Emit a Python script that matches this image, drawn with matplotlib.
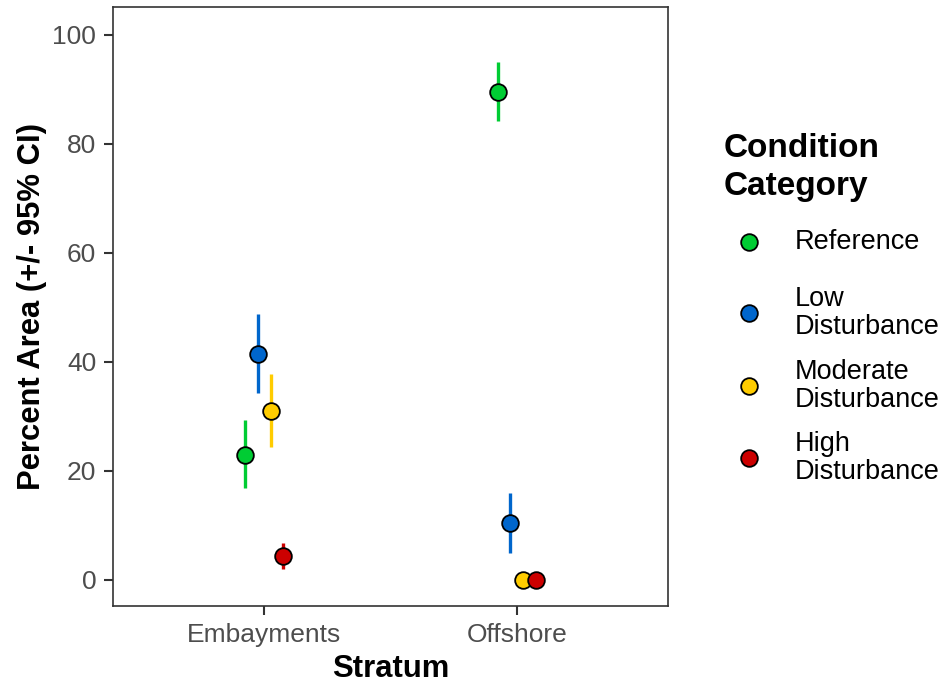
import numpy as np
import matplotlib.pyplot as plt
from matplotlib.lines import Line2D

plt.rcParams['font.family'] = ['Liberation Sans', 'DejaVu Sans']

# Dados
strata = ['Embayments', 'Offshore']
categories = ['Reference', 'Low\nDisturbance', 'Moderate\nDisturbance', 'High\nDisturbance']
colors = ['#00CC33', '#0066CC', '#FFCC00', '#CC0000']

# percent area por categoria (linhas) e estrato (colunas)
pct = [[22.9, 89.5],
       [41.5, 10.5],
       [31.0, 0.0],
       [4.4, 0.0]]
ci_low = [[16.8, 84.2],
          [34.3, 5.0],
          [24.4, 0.0],
          [2.0, 0.0]]
ci_high = [[29.4, 95.0],
           [48.8, 16.0],
           [37.8, 0.0],
           [6.8, 0.0]]

W, H = 941, 683
fig = plt.figure(figsize=(W / 100, H / 100), dpi=100)
# painel em pixels: x 113-668, y 7-606
ax = fig.add_axes([113 / W, 1 - 606 / H, 555 / W, 599 / H])

x = np.arange(1, len(strata) + 1)
dodge = 0.05
for i, cat in enumerate(categories):
    xi = x + (i - 1.5) * dodge
    ax.vlines(xi, ci_low[i], ci_high[i], color=colors[i], lw=2.4, zorder=2)
    ax.plot(xi, pct[i], 'o', ms=12, mfc=colors[i], mec='black', mew=1.3, zorder=3)

ax.set_xlim(0.4, 2.6)
ax.set_ylim(-4.8, 105.1)
ax.set_xticks(x)
ax.set_xticklabels(strata)
ax.set_yticks([0, 20, 40, 60, 80, 100])
ax.tick_params(colors='#333333', labelcolor='#4D4D4D', labelsize=19, length=6.5, width=1.5)
ax.tick_params(axis='x', pad=6)
ax.tick_params(axis='y', pad=5.5)
for s in ax.spines.values():
    s.set_color('#333333')
    s.set_linewidth(1.2)

ax.set_xlabel('Stratum', fontsize=22.3, fontweight='bold')
ax.set_ylabel('Percent Area (+/- 95% CI)', fontsize=22.3, fontweight='bold')
ax.xaxis.set_label_coords(0.5, -0.08)
ax.yaxis.set_label_coords(-0.119, 0.5)

# Legenda
fig.text(724 / W, 1 - 157 / H, 'Condition', fontsize=24, fontweight='bold', va='baseline')
fig.text(724 / W, 1 - 195 / H, 'Category', fontsize=24, fontweight='bold', va='baseline')
rows = [242, 313, 386, 458]
for c, lab, py in zip(colors, categories, rows):
    yf = 1 - py / H
    fig.add_artist(Line2D([749 / W], [yf], ls='', marker='o', ms=12,
                          mfc=c, mec='black', mew=1.3))
    fig.text(795 / W, yf, lab, fontsize=19.5, va='center', linespacing=1.08)

fig.savefig('out.png', dpi=100)
